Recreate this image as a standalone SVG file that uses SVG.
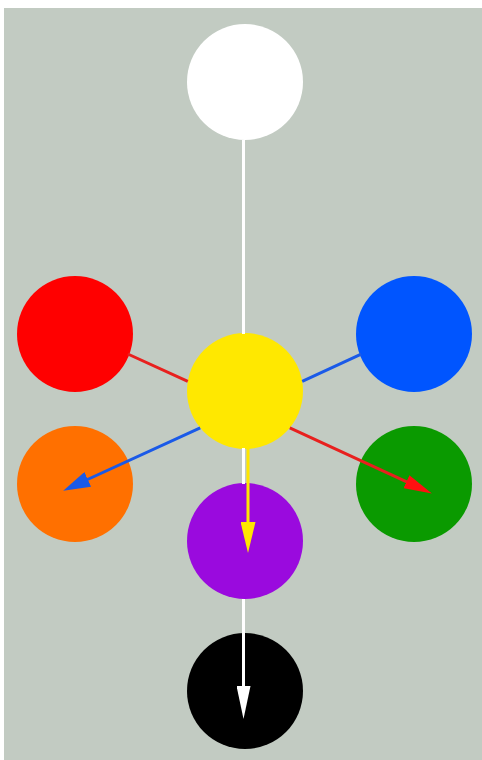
<svg xmlns="http://www.w3.org/2000/svg" width="482" height="760" viewBox="0 0 482 760">
<style>
.link{fill:none;stroke-width:3;stroke-linecap:butt}
</style>
<defs>
<marker id="aw" markerUnits="userSpaceOnUse" viewBox="0 0 33 14" markerWidth="33" markerHeight="14" refX="16.5" refY="7" orient="auto"><path d="M0,0 L33,7 L0,14 z" fill="#ffffff"/></marker>
<marker id="ay" markerUnits="userSpaceOnUse" viewBox="0 0 31 15" markerWidth="31" markerHeight="15" refX="15.5" refY="7.5" orient="auto"><path d="M0,0 L31,7.5 L0,15 z" fill="#ffe600"/></marker>
<marker id="ar" markerUnits="userSpaceOnUse" viewBox="0 0 28 14" markerWidth="28" markerHeight="14" refX="14" refY="7" orient="auto"><path d="M0,0 L28,7 L0,14 z" fill="#ff1010"/></marker>
<marker id="ab" markerUnits="userSpaceOnUse" viewBox="0 0 27 16" markerWidth="27" markerHeight="16" refX="13.5" refY="8" orient="auto"><path d="M0,0 L27,8 L0,16 z" fill="#1a5ae8"/></marker>
</defs>
<rect x="0" y="0" width="482" height="760" fill="#ffffff"/>
<rect x="4" y="8" width="478" height="752" fill="#c2cbc2"/>
<g id="white"><circle cx="245" cy="82" r="58" fill="#ffffff"/></g>
<g id="red"><circle cx="75" cy="334" r="58" fill="#ff0000"/></g>
<g id="blue"><circle cx="414" cy="334" r="58" fill="#0055ff"/></g>
<g id="yellow"><circle cx="245" cy="391" r="58" fill="#ffe800"/></g>
<g id="orange"><circle cx="75" cy="484" r="58" fill="#ff7000"/></g>
<g id="green"><circle cx="414" cy="484" r="58" fill="#0a9a00"/></g>
<g id="purple"><circle cx="245" cy="541" r="58" fill="#9a0ade"/></g>
<g id="black"><circle cx="245" cy="691" r="58" fill="#000000"/></g>
<g id="connectors">
<path class="link" stroke="#ffffff" d="M243.5,140 V334 M243.5,448 V484 M243.5,599 V702.5" marker-end="url(#aw)"/>
<path class="link" stroke="#ffe600" d="M248,448 V537.5" marker-end="url(#ay)"/>
<path class="link" stroke="#e8201e" d="M127.8,354 L187.8,381.4 M289.8,427.8 L419.2,487.6" marker-end="url(#ar)"/>
<path class="link" stroke="#1a5ae8" d="M361.2,354.1 L302.2,381.4 M200.2,427.8 L75.5,485" marker-end="url(#ab)"/>
</g>
</svg>
